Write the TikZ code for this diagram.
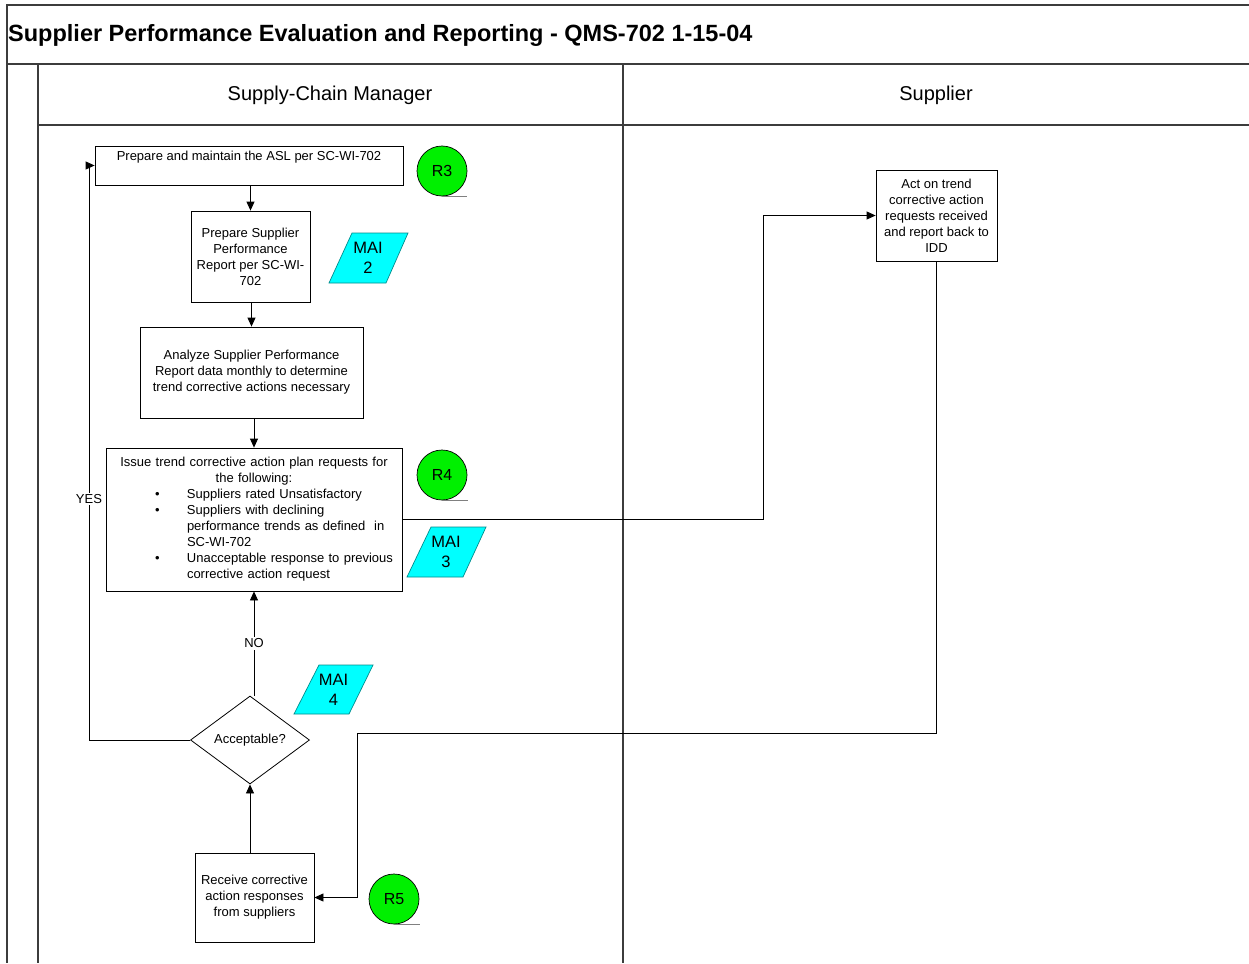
\documentclass[tikz,border=0pt]{standalone}
\usepackage{fontspec}
\setmainfont{Liberation Sans}
\usetikzlibrary{shapes.geometric,arrows.meta}
\definecolor{maicyan}{RGB}{0,255,255}
\definecolor{maiedge}{RGB}{0,140,140}
\definecolor{rgreen}{RGB}{0,240,0}
\definecolor{framegray}{RGB}{60,60,60}
\begin{document}
\begin{tikzpicture}[x=1pt,y=-1pt,
  box/.style={draw=black, line width=0.8pt, fill=white, inner sep=0pt, align=center, font=\fontsize{13}{16}\selectfont},
  arr/.style={draw=black, line width=0.8pt, -{Triangle[length=9pt,width=8pt]}},
  conn/.style={draw=black, line width=0.8pt},
  frame/.style={draw=framegray, line width=1.8pt},
  lane/.style={draw=framegray, line width=1.4pt},
  mai/.style={draw=maiedge, fill=maicyan, line width=0.7pt},
  mailabel/.style={align=center, font=\fontsize{16.5}{20}\selectfont, inner sep=0pt},
  rcirc/.style={circle, draw=black, line width=0.7pt, fill=rgreen, minimum size=50pt, inner sep=0pt, font=\fontsize{16}{18}\selectfont},
  under/.style={draw=gray, line width=0.9pt},
  lbl/.style={fill=white, inner sep=1.5pt, font=\fontsize{13}{15}\selectfont},
  lanehead/.style={font=\fontsize{20}{24}\selectfont, inner sep=0pt}
]
\useasboundingbox (0,0) rectangle (1249,963);

% frame
\draw[frame] (1249,5) -- (7,5) -- (7,963);
\draw[frame] (7,64) -- (1249,64);
\draw[lane] (38,125) -- (1249,125);
\draw[lane] (38,64) -- (38,963);
\draw[lane] (623,64) -- (623,963);

\node[anchor=west, font=\fontsize{23.5}{28}\selectfont\bfseries, inner sep=0pt] (title) at (8,35)
  {Supplier Performance Evaluation and Reporting - QMS-702 1-15-04};
\node[lanehead] (scm) at (330,95) {Supply-Chain Manager};
\node[lanehead] (sup) at (936,95) {Supplier};

% process nodes
\node[box, minimum width=308pt, minimum height=39pt] (asl) at (249,165.5)
  {Prepare and maintain the ASL per SC-WI-702\\[-2pt] \strut};
\node[box, minimum width=119pt, minimum height=91pt] (rep) at (250.5,256.5)
  {Prepare Supplier\\Performance\\Report per SC-WI-\\702};
\node[box, minimum width=223pt, minimum height=91pt] (ana) at (251.5,372.5)
  {Analyze Supplier Performance\\Report data monthly to determine\\trend corrective actions necessary};
\node[box, minimum width=296pt, minimum height=143pt, text width=296pt] (issue) at (254,519.5)
  {Issue trend corrective action plan requests for\\the following:\\
   \makebox[296pt][l]{\hspace{49pt}\makebox[32pt][l]{\textbullet}Suppliers rated Unsatisfactory}\\
   \makebox[296pt][l]{\hspace{49pt}\makebox[32pt][l]{\textbullet}Suppliers with declining}\\
   \makebox[296pt][l]{\hspace{81pt}performance trends as defined\ \ in}\\
   \makebox[296pt][l]{\hspace{81pt}SC-WI-702}\\
   \makebox[296pt][l]{\hspace{49pt}\makebox[32pt][l]{\textbullet}Unacceptable response to previous}\\
   \makebox[296pt][l]{\hspace{81pt}corrective action request}};
\node[box, diamond, aspect=1.35, minimum width=119pt, minimum height=88pt] (acc) at (250,740)
  {Acceptable?};
\node[box, minimum width=119pt, minimum height=89pt] (recv) at (254.5,897.5)
  {Receive corrective\\action responses\\from suppliers};
\node[box, minimum width=121pt, minimum height=91pt] (supp) at (936.5,215.5)
  {Act on trend\\corrective action\\requests received\\and report back to\\IDD};

% reference circles
\node[rcirc] (r3) at (442,171) {R3};
\draw[under] (r3.south) -- ++(25,0);
\node[rcirc] (r4) at (442,475) {R4};
\draw[under] (r4.south) -- ++(26,0);
\node[rcirc] (r5) at (394,899) {R5};
\draw[under] (r5.south) -- ++(26,0);

% MAI parallelograms
\path[mai] (352,233) -- (408,233) -- (386,283) -- (329,283) -- cycle;
\node[mailabel] (mai2) at (368,258) {MAI\\2};
\path[mai] (431,527) -- (486,527) -- (463,577) -- (407,577) -- cycle;
\node[mailabel] (mai3) at (446,552) {MAI\\3};
\path[mai] (319,665) -- (373,665) -- (349,714) -- (294,714) -- cycle;
\node[mailabel] (mai4) at (333.5,690) {MAI\\4};

% connectors
\draw[arr] (rep.north |- asl.south) -- (rep.north);
\draw[arr] (ana.north |- rep.south) -- (ana.north);
\draw[arr] (issue.north |- ana.south) -- (issue.north);
\draw[arr] (issue.south |- acc.north) -- node[lbl] (no) {NO} (issue.south);
\draw[arr] (acc.south |- recv.north) -- (acc.south);

\coordinate (yesc) at (89,740);
\draw[arr] (acc.west) -- (yesc) |- (asl.west);
\node[lbl] (yes) at (89,499) {YES};

\coordinate (j1) at (763,519.5);
\draw[arr] (issue.east) -- (j1) |- (supp.west);

\coordinate (j2) at (357,733);
\draw[arr] (supp.south) -- (supp.south |- j2) -- (j2) |- (recv.east);
\end{tikzpicture}
\end{document}
